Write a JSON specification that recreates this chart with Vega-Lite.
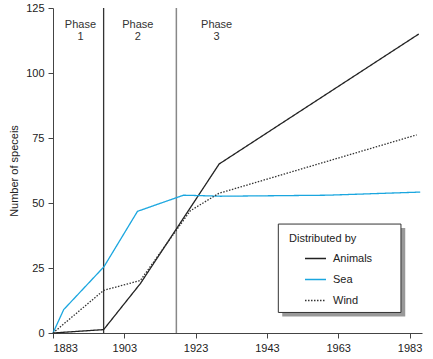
{
  "$schema": "https://vega.github.io/schema/vega-lite/v6.json",
  "width": 369,
  "height": 325,
  "autosize": {"type": "none"},
  "padding": {"left": 53, "top": 8, "right": 11, "bottom": 26},
  "config": {
    "view": {"stroke": null},
    "font": "Liberation Sans",
    "axis": {"grid": false, "domainColor": "#444", "tickColor": "#444", "labelColor": "#222", "labelFontSize": 11, "titleFontSize": 11, "titleColor": "#222", "labelFont": "Liberation Sans", "titleFont": "Liberation Sans", "titleFontWeight": "normal", "tickSize": 5},
    "legend": {
      "orient": "none", "legendX": 236, "legendY": 225, "padding": 0,
      "titleFontSize": 11, "titleFontWeight": "normal", "titleColor": "#222", "titleFont": "Liberation Sans",
      "labelFontSize": 11, "labelColor": "#222", "labelFont": "Liberation Sans",
      "symbolType": "stroke", "symbolSize": 441, "symbolStrokeWidth": 1.3, "symbolOffset": 15,
      "labelOffset": 6, "rowPadding": 4, "titlePadding": 3
    }
  },
  "datasets": {
    "series": [
      {"year": 1883, "species": 0, "mode": "Animals"},
      {"year": 1897.2, "species": 1.3, "mode": "Animals"},
      {"year": 1907.5, "species": 19, "mode": "Animals"},
      {"year": 1929.6, "species": 65, "mode": "Animals"},
      {"year": 1985.6, "species": 115, "mode": "Animals"},
      {"year": 1883, "species": 0, "mode": "Sea"},
      {"year": 1886, "species": 9, "mode": "Sea"},
      {"year": 1897.3, "species": 25.5, "mode": "Sea"},
      {"year": 1906.7, "species": 46.8, "mode": "Sea"},
      {"year": 1919.6, "species": 53, "mode": "Sea"},
      {"year": 1925, "species": 52.8, "mode": "Sea"},
      {"year": 1930, "species": 52.6, "mode": "Sea"},
      {"year": 1960, "species": 53, "mode": "Sea"},
      {"year": 1986, "species": 54.2, "mode": "Sea"},
      {"year": 1883, "species": 0, "mode": "Wind"},
      {"year": 1897.2, "species": 16.4, "mode": "Wind"},
      {"year": 1907.5, "species": 20.2, "mode": "Wind"},
      {"year": 1921.5, "species": 47, "mode": "Wind"},
      {"year": 1929.5, "species": 53.7, "mode": "Wind"},
      {"year": 1985, "species": 76.2, "mode": "Wind"}
    ],
    "phases": [
      {"boundary": 1897.2, "kind": "first"},
      {"boundary": 1917.6, "kind": "second"}
    ],
    "labels": [
      {"mid": 1890.7, "name": "Phase 1"},
      {"mid": 1906.8, "name": "Phase 2"},
      {"mid": 1928.9, "name": "Phase 3"}
    ],
    "box": [{"item": "legend box"}]
  },
  "layer": [
    {
      "data": {"name": "phases"},
      "transform": [{"filter": "datum.kind === 'first'"}],
      "mark": {"type": "rule", "color": "#333", "strokeWidth": 1.3},
      "encoding": {
        "x": {"field": "boundary", "type": "quantitative", "scale": {"domain": [1883, 1986.5], "nice": false, "zero": false}},
        "y": {"datum": 0, "type": "quantitative"},
        "y2": {"datum": 125}
      }
    },
    {
      "data": {"name": "phases"},
      "transform": [{"filter": "datum.kind === 'second'"}],
      "mark": {"type": "rule", "color": "#888", "strokeWidth": 1.5},
      "encoding": {
        "x": {"field": "boundary", "type": "quantitative"},
        "y": {"datum": 0, "type": "quantitative"},
        "y2": {"datum": 125}
      }
    },
    {
      "data": {"name": "labels"},
      "mark": {"type": "text", "lineBreak": " ", "baseline": "top", "align": "center", "fontSize": 11, "color": "#333", "lineHeight": 12, "font": "Liberation Sans"},
      "encoding": {
        "x": {"field": "mid", "type": "quantitative"},
        "y": {"datum": 120.6, "type": "quantitative"},
        "text": {"field": "name"}
      }
    },
    {
      "data": {"name": "series"},
      "mark": {"type": "line", "strokeWidth": 1.3},
      "encoding": {
        "x": {"field": "year", "type": "quantitative", "scale": {"domain": [1883, 1986.5], "nice": false, "zero": false},
          "axis": {"title": null, "values": [1883, 1903, 1923, 1943, 1963, 1983], "format": "d", "labelPadding": 4}},
        "y": {"field": "species", "type": "quantitative", "scale": {"domain": [0, 125], "nice": false},
          "axis": {"title": "Number of speceis", "values": [0, 12.5, 25, 37.5, 50, 62.5, 75, 87.5, 100, 112.5, 125], "labelExpr": "datum.value % 25 === 0 ? datum.label : ''", "labelPadding": 4, "titlePadding": 6}},
        "color": {"field": "mode", "type": "nominal", "title": "Distributed by", "scale": {"domain": ["Animals", "Sea", "Wind"], "range": ["#222222", "#1aa6df", "#333333"]}},
        "strokeDash": {"field": "mode", "type": "nominal", "title": "Distributed by", "scale": {"domain": ["Animals", "Sea", "Wind"], "range": [[1, 0], [1, 0], [1.5, 1.5]]}}
      }
    },
    {
      "data": {"name": "box"},
      "mark": {"type": "rect", "color": "#999"},
      "encoding": {
        "x": {"datum": 1947.3, "type": "quantitative"},
        "x2": {"datum": 1981.8},
        "y": {"datum": 40.4, "type": "quantitative"},
        "y2": {"datum": 6.3}
      }
    },
    {
      "data": {"name": "box"},
      "mark": {"type": "rect", "fill": "white", "stroke": "#333", "strokeWidth": 1},
      "encoding": {
        "x": {"datum": 1946.2, "type": "quantitative"},
        "x2": {"datum": 1980.6},
        "y": {"datum": 41.9, "type": "quantitative"},
        "y2": {"datum": 7.9}
      }
    }
  ]
}
